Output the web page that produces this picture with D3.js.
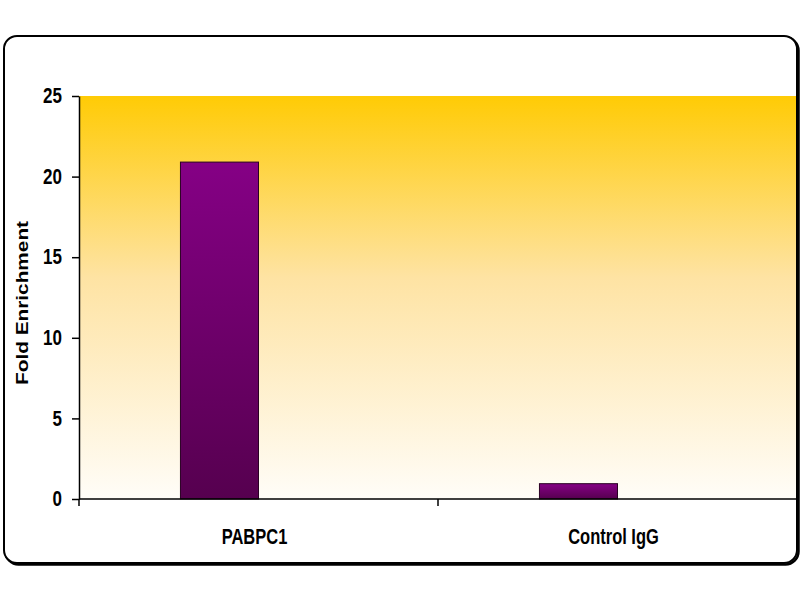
<!DOCTYPE html>
<html>
<head>
<meta charset="utf-8">
<script src="https://cdn.jsdelivr.net/npm/d3@7"></script>
<style>
  body { margin: 0; background: #fff; }
  text { font-family: "Liberation Sans", Arial, sans-serif; font-weight: bold; fill: #000; }
</style>
</head>
<body>
<div id="chart"></div>
<script>
// data
const categories = ["PABPC1", "Control IgG"];
const series = ["ChIP", "empty"];   // excel left a second, empty slot next to each bar
const values = [20.9, 0.95];
const yTicks = [0, 5, 10, 15, 20, 25];

const svg = d3.select("#chart").append("svg")
    .attr("width", 800).attr("height", 600);

const margin = {left: 79, right: 797, top: 96, bottom: 499};
const stretch = 1.3; // the source picture is squeezed sideways, text looks tall

const defs = svg.append("defs");
const bg = defs.append("linearGradient").attr("id", "bg")
    .attr("x1", 0).attr("y1", 0).attr("x2", 0).attr("y2", 1);
bg.append("stop").attr("offset", "0%").attr("stop-color", "#ffcb05");
bg.append("stop").attr("offset", "45%").attr("stop-color", "#fee3a3");
bg.append("stop").attr("offset", "100%").attr("stop-color", "#fffdf8");

const barGrad = defs.append("linearGradient").attr("id", "bar")
    .attr("x1", 0).attr("y1", 0).attr("x2", 0).attr("y2", 1);
barGrad.append("stop").attr("offset", "0%").attr("stop-color", "#850085");
barGrad.append("stop").attr("offset", "100%").attr("stop-color", "#56004f");

// outer frame, with a little shadow on right / bottom
svg.append("rect")
    .attr("x", 5.5).attr("y", 37.5).attr("width", 793).attr("height", 527)
    .attr("rx", 13).attr("ry", 13)
    .attr("fill", "none").attr("stroke", "#000").attr("stroke-width", 2.5);
svg.append("rect")
    .attr("x", 4).attr("y", 36).attr("width", 793).attr("height", 527)
    .attr("rx", 13).attr("ry", 13)
    .attr("fill", "#fff").attr("stroke", "#000").attr("stroke-width", 2);

const x = d3.scaleBand()
    .domain(categories)
    .range([margin.left, margin.right]);

const xSub = d3.scaleBand()
    .domain(series)
    .range([0, x.bandwidth()])
    .paddingOuter(1.3);

const y = d3.scaleLinear()
    .domain([0, 25])
    .range([margin.bottom, margin.top]);

// plot area
svg.append("rect")
    .attr("x", margin.left).attr("y", y(25))
    .attr("width", margin.right - margin.left - 1)
    .attr("height", y(0) - y(25))
    .attr("fill", "url(#bg)");

svg.selectAll("rect.bar")
    .data(values)
    .join("rect")
    .attr("class", "bar")
    .attr("x", (d, i) => x(categories[i]) + xSub("ChIP"))
    .attr("y", d => y(d))
    .attr("width", xSub.bandwidth())
    .attr("height", d => y(0) - y(d))
    .attr("fill", "url(#bar)")
    .attr("stroke", "#2a0024")
    .attr("stroke-width", 1);

// y axis
const yAxis = svg.append("g")
    .attr("transform", `translate(${margin.left},0)`)
    .call(d3.axisLeft(y).tickValues(yTicks).tickSize(7).tickSizeOuter(0).tickPadding(10));
yAxis.selectAll("text")
    .style("font-size", "17px")
    .attr("dy", "0.3em")
    .attr("transform", `scale(1,${stretch})`);
yAxis.selectAll("line, path").attr("stroke", "#000").attr("stroke-width", 1.5);

// x axis
const xAxis = svg.append("g")
    .attr("transform", `translate(0,${y(0)})`);
xAxis.append("line")
    .attr("x1", margin.left).attr("x2", margin.right)
    .attr("stroke", "#000").attr("stroke-width", 1.5);
xAxis.selectAll("line.tick")
    .data([margin.left, x(categories[1])])
    .join("line")
    .attr("class", "tick")
    .attr("x1", d => d).attr("x2", d => d)
    .attr("y1", 0).attr("y2", 7)
    .attr("stroke", "#000").attr("stroke-width", 1.5);
xAxis.selectAll("text")
    .data(categories)
    .join("text")
    .attr("transform", d => `translate(${x(d) + x.bandwidth() / 2 - 4},45) scale(1,${stretch})`)
    .attr("text-anchor", "middle")
    .style("font-size", "16.5px")
    .text(d => d);

svg.append("text")
    .attr("transform", `translate(28,303) rotate(-90) scale(${stretch},1)`)
    .attr("text-anchor", "middle")
    .style("font-size", "16px")
    .text("Fold Enrichment");
</script>
</body>
</html>
